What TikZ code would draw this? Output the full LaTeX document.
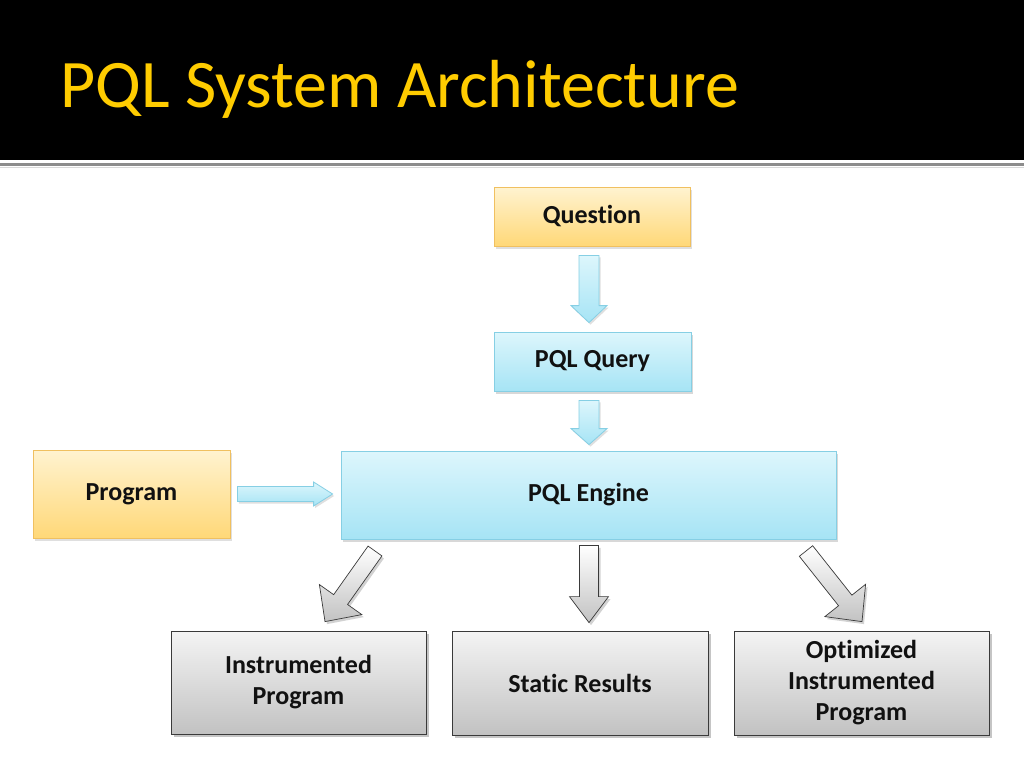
\documentclass[tikz,border=0pt]{standalone}
\usepackage{fontspec}
\setmainfont{Carlito}[Ligatures=NoCommon]
\usetikzlibrary{calc,shadows}
\definecolor{titley}{HTML}{FFCC00}
\definecolor{orT}{HTML}{FFF3D0}
\definecolor{orB}{HTML}{FFD878}
\definecolor{orD}{HTML}{F0C060}
\definecolor{blT}{HTML}{DDF6FC}
\definecolor{blB}{HTML}{A6E4F5}
\definecolor{blD}{HTML}{86CFE4}
\definecolor{grT}{HTML}{F4F4F4}
\definecolor{grB}{HTML}{C2C2C2}
\definecolor{grD}{HTML}{3A3A3A}
\definecolor{txt}{HTML}{111111}
\tikzset{
  box/.style={rectangle, inner sep=0pt, align=center, text=txt,
    font=\fontsize{26}{31}\selectfont\bfseries, line width=0.8pt},
  orangebox/.style={box, draw=orD, top color=orT, bottom color=orB,
    drop shadow={shadow xshift=2pt, shadow yshift=-2.5pt, opacity=0.25}},
  bluebox/.style={box, draw=blD, top color=blT, bottom color=blB,
    drop shadow={shadow xshift=2pt, shadow yshift=-2.5pt, opacity=0.3}},
  graybox/.style={box, draw=grD, top color=grT, bottom color=grB,
    drop shadow={shadow xshift=2.5pt, shadow yshift=-3pt, opacity=0.45}},
  bluearrow/.style={draw=blD, line width=0.8pt, top color=blT, bottom color=blB,
    drop shadow={shadow xshift=1.5pt, shadow yshift=-2pt, opacity=0.25}},
  grayarrow/.style={draw=grD, line width=0.7pt, top color=white, bottom color=grB,
    drop shadow={shadow xshift=2pt, shadow yshift=-2.5pt, opacity=0.35}},
}
% block arrow: style, tail point, tip point, half shaft, half head, head length
\newcommand\blockarr[6]{%
  \path (#2) coordinate (bA) (#3) coordinate (bB);
  \path ($(bB)!#6!(bA)$) coordinate (bH);
  \draw[#1] ($(bA)!#4!90:(bB)$) -- ($(bH)!#4!90:(bB)$) -- ($(bH)!#5!90:(bB)$)
    -- (bB) -- ($(bH)!#5!-90:(bB)$) -- ($(bH)!#4!-90:(bB)$)
    -- ($(bA)!#4!-90:(bB)$) -- cycle;}
\begin{document}
\begin{tikzpicture}[x=1pt,y=-1pt]
\useasboundingbox (0,0) rectangle (1024,768);
\fill[white] (0,0) rectangle (1024,768);
% header
\fill[black] (0,0) rectangle (1024,160);
\draw[color=black!45, line width=2.2pt] (0,164.5) -- (1024,164.5);
\draw[color=black!15, line width=1.5pt] (0,167.5) -- (1024,167.5);
\node[anchor=base west, inner sep=0pt, text=titley,
  font=\fontsize{68}{70}\selectfont] (title) at (60,107.5) {PQL System Architecture};
% nodes
\node[orangebox, minimum width=196pt, minimum height=59pt] (q) at (592,216.5) {Question};
\node[bluebox, minimum width=197pt, minimum height=59pt] (pq) at (592.5,361.5) {PQL Query};
\node[orangebox, minimum width=197pt, minimum height=88pt] (prog) at (131.5,494) {Program};
\node[bluebox, minimum width=495pt, minimum height=88pt] (eng) at (588.5,495) {PQL Engine};
\node[graybox, minimum width=255pt, minimum height=103pt] (ip) at (298.5,682.5) {Instrumented\\Program};
\node[graybox, minimum width=256pt, minimum height=104pt] (sr) at (580,683) {Static Results};
\node[graybox, minimum width=255pt, minimum height=104pt] (oip) at (861.5,683) {Optimized\\Instrumented\\Program};
% blue connectors
\blockarr{bluearrow}{$(q.south)+(-3,9)$}{$(pq.north)+(-3.5,-9)$}{10pt}{18pt}{17pt}
\blockarr{bluearrow}{$(pq.south)+(-3.5,9)$}{$(eng.north)+(0.5,-6)$}{10pt}{18pt}{16pt}
\blockarr{bluearrow}{$(prog.east)+(7,0)$}{$(eng.west)+(-8,-1)$}{7.5pt}{12pt}{19pt}
% gray connectors
\coordinate (lt) at (375,551);
\coordinate (rt) at (806,551);
\blockarr{grayarrow}{lt}{$(ip.north)+(26.5,-9)$}{8.5pt}{26pt}{27pt}
\blockarr{grayarrow}{$(eng.south)+(0.5,6)$}{$(sr.north)+(9,-8)$}{9.5pt}{19.5pt}{26pt}
\blockarr{grayarrow}{rt}{$(oip.north)+(0.5,-9)$}{8.5pt}{26pt}{27pt}
\end{tikzpicture}
\end{document}
